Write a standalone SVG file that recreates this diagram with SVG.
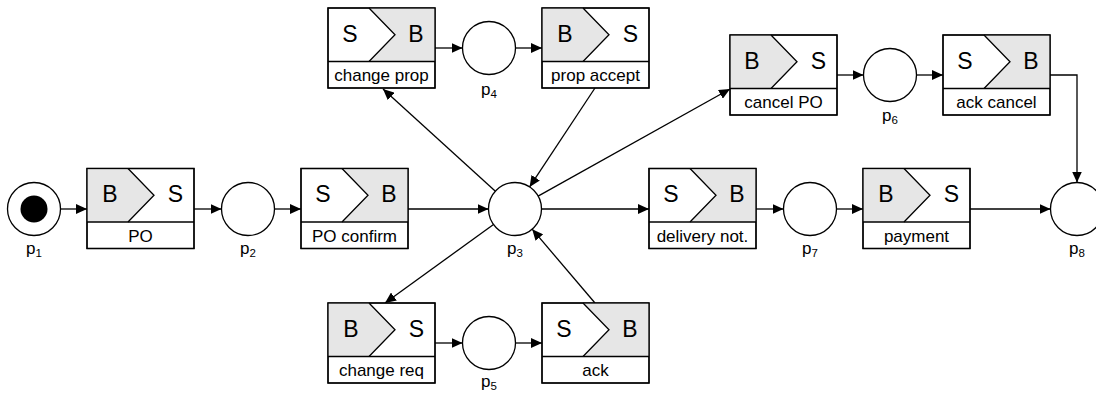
<svg xmlns="http://www.w3.org/2000/svg" width="1096" height="394" viewBox="0 0 1096 394">
<style>
.box{fill:#fff;stroke:#000;stroke-width:1.3}
.frame{fill:none;stroke:#000;stroke-width:1.3}
.sh{fill:#e6e6e6;stroke:none}
.chev{fill:none;stroke:#000;stroke-width:1.3}
.pl{fill:#fff;stroke:#000;stroke-width:1.3}
.big{font-family:"Liberation Sans",Arial,sans-serif;font-size:23px;text-anchor:middle;fill:#000}
.lab{font-family:"Liberation Sans",Arial,sans-serif;font-size:17px;text-anchor:middle;fill:#000}
.sub{font-size:11.5px}
.con{fill:none;stroke:#000;stroke-width:1.3;marker-end:url(#ah)}
</style>
<defs>
<marker id="ah" markerUnits="userSpaceOnUse" markerWidth="11" markerHeight="10" refX="11" refY="5" orient="auto">
<path d="M0,0 L11,5 L0,10 z" fill="#000"/>
</marker>
</defs>

<g id="connectors">
<line class="con" x1="60.5" y1="209" x2="87" y2="209"/>
<line class="con" x1="194" y1="209" x2="221.5" y2="209"/>
<line class="con" x1="274.5" y1="209" x2="301" y2="209"/>
<line class="con" x1="408" y1="209" x2="488.5" y2="209"/>
<line class="con" x1="541.5" y1="209" x2="649" y2="209"/>
<line class="con" x1="756" y1="209" x2="783.5" y2="209"/>
<line class="con" x1="836.5" y1="209" x2="863" y2="209"/>
<line class="con" x1="970" y1="209" x2="1050.5" y2="209"/>
<line class="con" x1="495.4" y1="191.2" x2="383" y2="89"/>
<line class="con" x1="595" y1="88" x2="529.6" y2="186.9"/>
<line class="con" x1="538.1" y1="196.1" x2="730" y2="89"/>
<line class="con" x1="493.5" y1="224.5" x2="385" y2="303"/>
<line class="con" x1="595" y1="303" x2="532.2" y2="229.2"/>
<line class="con" x1="435" y1="48" x2="462.5" y2="48"/>
<line class="con" x1="515.5" y1="48" x2="542" y2="48"/>
<line class="con" x1="435" y1="343" x2="462.5" y2="343"/>
<line class="con" x1="515.5" y1="343" x2="542" y2="343"/>
<line class="con" x1="836.7" y1="75" x2="863.5" y2="75"/>
<line class="con" x1="916.5" y1="75" x2="943" y2="75"/>
<polyline class="con" points="1050,75 1077,75 1077,182.5"/>
</g>

<g id="p1">
<circle class="pl" cx="34" cy="209" r="26.5"/>
<circle cx="34" cy="209" r="13.5" fill="#000"/>
<text class="lab" x="34" y="254">p<tspan class="sub" dy="2.5">1</tspan></text>
</g>
<g id="PO">
<rect class="box" x="87" y="168.5" width="107" height="80"/>
<polygon class="sh" points="87,168.5 128,168.5 154,195.25 128,222 87,222"/>
<polyline class="chev" points="128,168.5 154,195.25 128,222"/>
<rect class="frame" x="87" y="168.5" width="107" height="80"/>
<line class="chev" x1="87" y1="222" x2="194" y2="222"/>
<text class="big" x="110" y="202">B</text>
<text class="big" x="175.5" y="202">S</text>
<text class="lab" x="140.5" y="241.5">PO</text>
</g>
<g id="p2">
<circle class="pl" cx="248" cy="209" r="26.5"/>
<text class="lab" x="248" y="254">p<tspan class="sub" dy="2.5">2</tspan></text>
</g>
<g id="POconfirm">
<rect class="box" x="301" y="168.5" width="107" height="80"/>
<polygon class="sh" points="342,168.5 408,168.5 408,222 342,222 368,195.25"/>
<polyline class="chev" points="342,168.5 368,195.25 342,222"/>
<rect class="frame" x="301" y="168.5" width="107" height="80"/>
<line class="chev" x1="301" y1="222" x2="408" y2="222"/>
<text class="big" x="323" y="202">S</text>
<text class="big" x="389" y="202">B</text>
<text class="lab" x="354.5" y="241.5">PO confirm</text>
</g>
<g id="p3">
<circle class="pl" cx="515" cy="209" r="26.5"/>
<text class="lab" x="515" y="254">p<tspan class="sub" dy="2.5">3</tspan></text>
</g>
<g id="changeprop">
<rect class="box" x="328" y="8" width="107" height="80"/>
<polygon class="sh" points="369,8 435,8 435,61.5 369,61.5 395,34.75"/>
<polyline class="chev" points="369,8 395,34.75 369,61.5"/>
<rect class="frame" x="328" y="8" width="107" height="80"/>
<line class="chev" x1="328" y1="61.5" x2="435" y2="61.5"/>
<text class="big" x="350" y="41.5">S</text>
<text class="big" x="416" y="41.5">B</text>
<text class="lab" x="381.5" y="81">change prop</text>
</g>
<g id="p4">
<circle class="pl" cx="489" cy="48" r="26.5"/>
<text class="lab" x="489" y="95">p<tspan class="sub" dy="2.5">4</tspan></text>
</g>
<g id="propaccept">
<rect class="box" x="542" y="8" width="107" height="80"/>
<polygon class="sh" points="542,8 583,8 609,34.75 583,61.5 542,61.5"/>
<polyline class="chev" points="583,8 609,34.75 583,61.5"/>
<rect class="frame" x="542" y="8" width="107" height="80"/>
<line class="chev" x1="542" y1="61.5" x2="649" y2="61.5"/>
<text class="big" x="565" y="41.5">B</text>
<text class="big" x="630.5" y="41.5">S</text>
<text class="lab" x="595.5" y="81">prop accept</text>
</g>
<g id="changereq">
<rect class="box" x="328" y="303" width="107" height="80"/>
<polygon class="sh" points="328,303 369,303 395,329.75 369,356.5 328,356.5"/>
<polyline class="chev" points="369,303 395,329.75 369,356.5"/>
<rect class="frame" x="328" y="303" width="107" height="80"/>
<line class="chev" x1="328" y1="356.5" x2="435" y2="356.5"/>
<text class="big" x="351" y="336.5">B</text>
<text class="big" x="416.5" y="336.5">S</text>
<text class="lab" x="381.5" y="376">change req</text>
</g>
<g id="p5">
<circle class="pl" cx="489" cy="343" r="26.5"/>
<text class="lab" x="489" y="387">p<tspan class="sub" dy="2.5">5</tspan></text>
</g>
<g id="ack">
<rect class="box" x="542" y="303" width="107" height="80"/>
<polygon class="sh" points="583,303 649,303 649,356.5 583,356.5 609,329.75"/>
<polyline class="chev" points="583,303 609,329.75 583,356.5"/>
<rect class="frame" x="542" y="303" width="107" height="80"/>
<line class="chev" x1="542" y1="356.5" x2="649" y2="356.5"/>
<text class="big" x="564" y="336.5">S</text>
<text class="big" x="630" y="336.5">B</text>
<text class="lab" x="595.5" y="376">ack</text>
</g>
<g id="cancelPO">
<rect class="box" x="730" y="35" width="107" height="80"/>
<polygon class="sh" points="730,35 771,35 797,61.75 771,88.5 730,88.5"/>
<polyline class="chev" points="771,35 797,61.75 771,88.5"/>
<rect class="frame" x="730" y="35" width="107" height="80"/>
<line class="chev" x1="730" y1="88.5" x2="837" y2="88.5"/>
<text class="big" x="752" y="68.5">B</text>
<text class="big" x="818.5" y="68.5">S</text>
<text class="lab" x="783.5" y="108">cancel PO</text>
</g>
<g id="p6">
<circle class="pl" cx="890" cy="75" r="26.5"/>
<text class="lab" x="890" y="121">p<tspan class="sub" dy="2.5">6</tspan></text>
</g>
<g id="ackcancel">
<rect class="box" x="943" y="35" width="107" height="80"/>
<polygon class="sh" points="984,35 1050,35 1050,88.5 984,88.5 1010,61.75"/>
<polyline class="chev" points="984,35 1010,61.75 984,88.5"/>
<rect class="frame" x="943" y="35" width="107" height="80"/>
<line class="chev" x1="943" y1="88.5" x2="1050" y2="88.5"/>
<text class="big" x="965" y="68.5">S</text>
<text class="big" x="1031" y="68.5">B</text>
<text class="lab" x="996.5" y="108">ack cancel</text>
</g>
<g id="deliverynot">
<rect class="box" x="649" y="168.5" width="107" height="80"/>
<polygon class="sh" points="690,168.5 756,168.5 756,222 690,222 716,195.25"/>
<polyline class="chev" points="690,168.5 716,195.25 690,222"/>
<rect class="frame" x="649" y="168.5" width="107" height="80"/>
<line class="chev" x1="649" y1="222" x2="756" y2="222"/>
<text class="big" x="671" y="202">S</text>
<text class="big" x="737" y="202">B</text>
<text class="lab" x="702.5" y="241.5">delivery not.</text>
</g>
<g id="p7">
<circle class="pl" cx="810" cy="209" r="26.5"/>
<text class="lab" x="810" y="254">p<tspan class="sub" dy="2.5">7</tspan></text>
</g>
<g id="payment">
<rect class="box" x="863" y="168.5" width="107" height="80"/>
<polygon class="sh" points="863,168.5 904,168.5 930,195.25 904,222 863,222"/>
<polyline class="chev" points="904,168.5 930,195.25 904,222"/>
<rect class="frame" x="863" y="168.5" width="107" height="80"/>
<line class="chev" x1="863" y1="222" x2="970" y2="222"/>
<text class="big" x="886" y="202">B</text>
<text class="big" x="951.5" y="202">S</text>
<text class="lab" x="916.5" y="241.5">payment</text>
</g>
<g id="p8">
<circle class="pl" cx="1077" cy="209" r="26.5"/>
<text class="lab" x="1077" y="254">p<tspan class="sub" dy="2.5">8</tspan></text>
</g>
</svg>
